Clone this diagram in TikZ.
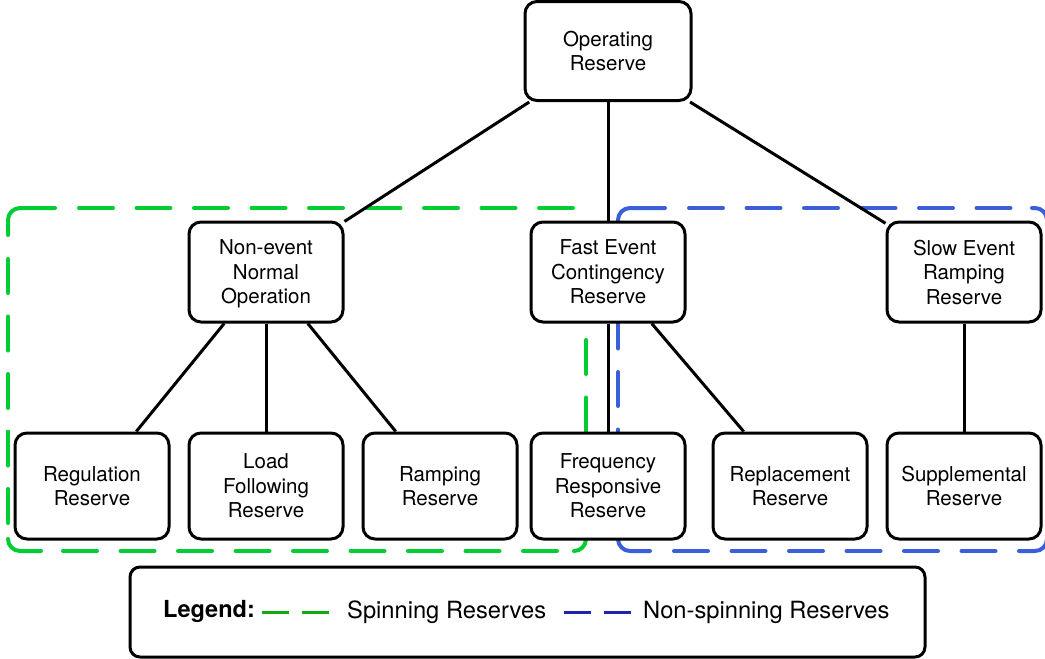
\documentclass[tikz,border=0pt]{standalone}
\usepackage{fontspec}
\setmainfont{TeX Gyre Heros}
\definecolor{spingreen}{HTML}{00CC33}
\definecolor{nonspinblue}{HTML}{3B5FD9}
\definecolor{leggreen}{HTML}{10AA10}
\definecolor{legblue}{HTML}{2222B0}
\tikzset{
  box/.style={draw, line width=3pt, rounded corners=12pt, fill=white,
    minimum width=154pt, align=center,
    font=\fontsize{20.5}{24.5}\selectfont, inner sep=0pt},
  midbox/.style={box, minimum height=100pt},
  lowbox/.style={box, minimum height=106pt},
  edge/.style={line width=3pt},
  % one side of a group frame: dashes of 34 + round caps, period 57.5
  framedash/.style={line width=4pt, line cap=round, dash pattern=on 34pt off 23.5pt},
  % solid rounded piece where a group frame turns a corner
  framecorner/.style={line width=4pt, line cap=round, rounded corners=12pt},
  legtext/.style={font=\fontsize{23.7}{27}\selectfont, anchor=west, inner sep=0pt},
  legline/.style={line width=3pt, dash pattern=on 27pt off 13pt}
}
\begin{document}
\begin{tikzpicture}[x=1pt, y=-1pt]
\useasboundingbox (0,0) rectangle (1045,659);

% spinning reserves group frame
\begin{scope}[spingreen]
  \draw[framedash] (79,208) -- (573,208);
  \draw[framedash] (8,259) -- (8,523);
  \draw[framedash] (63,551) -- (557,551);
  \draw[framedash] (586,225) -- (586,489);
  \draw[framecorner] (8,235) -- (8,208) -- (55,208);
  \draw[framecorner] (8,539) -- (8,551) -- (41,551);
  \draw[framecorner] (574,551) -- (586,551) -- (586,510);
\end{scope}

% non-spinning reserves group frame
\begin{scope}[nonspinblue]
  \draw[framedash] (689,208) -- (1010.5,208);
  \draw[framedash] (618,257) -- (618,521);
  \draw[framedash] (674,551) -- (995.5,551);
  \draw[framedash] (1047,262) -- (1047,526);
  \draw[framecorner] (618,240) -- (618,208) -- (665,208);
  \draw[framecorner] (1032,208) -- (1047,208) -- (1047,240);
  \draw[framecorner] (618,539) -- (618,551) -- (650,551);
  \draw[framecorner] (1019,551) -- (1047,551) -- (1047,520);
\end{scope}

% hierarchy
\node[box, minimum width=166pt, minimum height=99pt] (op) at (608,51) {Operating\\Reserve};

\node[midbox] (ne)   at (266,272) {Non-event\\Normal\\O\smash{p}eration};
\node[midbox] (fast) at (608,272) {Fast Event\\Contingency\\Reserve};
\node[midbox] (slow) at (964,272) {Slow Event\\Ramping\\Reserve};

\node[lowbox] (reg)  at (92,486)  {Regulation\\Reserve};
\node[lowbox] (load) at (266,486) {Load\\Following\\Reserve};
\node[lowbox] (ramp) at (440,486) {Ramping\\Reserve};
\node[lowbox] (freq) at (608,486) {Frequency\\Responsive\\Reserve};
\node[lowbox] (repl) at (790,486) {Replacement\\Reserve};
\node[lowbox] (supp) at (964,486) {Supplemental\\Reserve};

\draw[edge] (op) -- (ne);
\draw[edge] (op) -- (fast);
\draw[edge] (op) -- (slow);
\draw[edge] (ne) -- (reg);
\draw[edge] (ne) -- (load);
\draw[edge] (ne) -- (ramp);
\draw[edge] (fast) -- (freq);
\draw[edge] (fast) -- (repl);
\draw[edge] (slow) -- (supp);

% legend
\node[draw, line width=3pt, rounded corners=10pt, minimum width=795pt,
  minimum height=90pt] (legend) at (527.5,612) {};
\node[legtext, font=\fontsize{23.5}{27}\selectfont\bfseries] (legtitle) at (163,611) {Legend:};
\coordinate (g1) at (262,612);
\coordinate (g2) at (330,612);
\draw[legline, leggreen] (g1) -- (g2);
\node[legtext] (legspin) at (347,612) {Spinning Reserves};
\coordinate (b1) at (564,612);
\coordinate (b2) at (632,612);
\draw[legline, legblue] (b1) -- (b2);
\node[legtext] (legnonspin) at (643,612) {Non-spinning Reserves};
\end{tikzpicture}
\end{document}
